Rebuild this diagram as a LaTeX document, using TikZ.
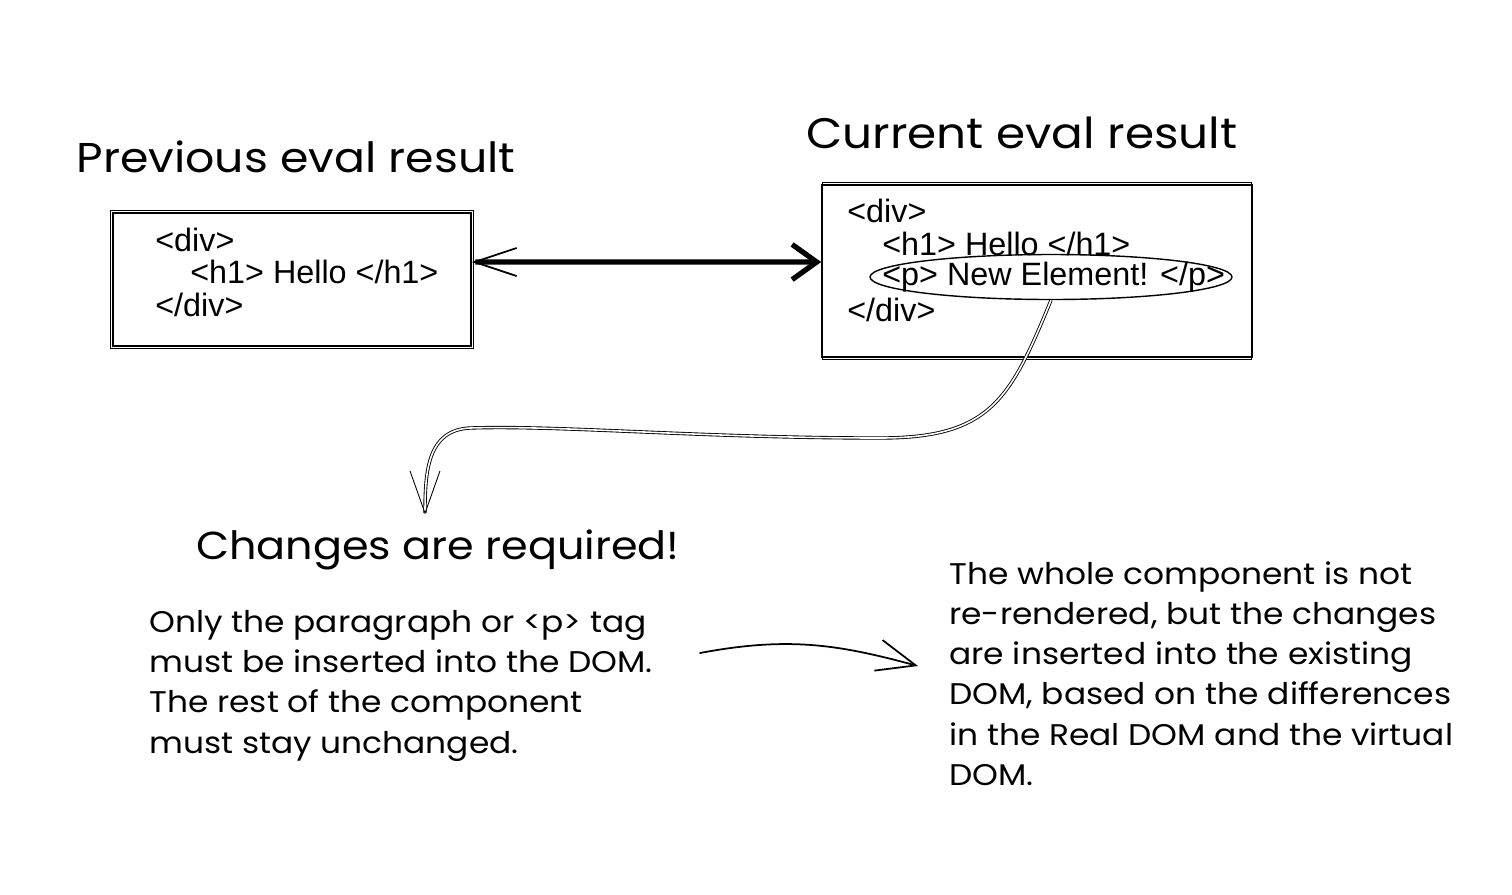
\documentclass[tikz,border=0pt]{standalone}
\usepackage{fontspec}
\setmainfont[FakeStretch=1.1]{Poppins}
\newfontfamily\codefont{Liberation Sans}
\usetikzlibrary{arrows.meta,shapes.geometric}
\begin{document}
\begin{tikzpicture}[x=0.02cm,y=-0.02cm,
% handwritten headings and notes:
title/.style = {font=\fontsize{24}{28}\selectfont, inner sep=0},
note/.style = {font=\fontsize{17}{22.9}\selectfont, align=left,
            anchor=north west, inner sep=0},
% the two result boxes and their code lines:
codebox/.style = {draw, line width=0.9pt, inner sep=0},
code/.style = {font=\codefont\fontsize{18.4}{20}\selectfont, anchor=west, inner sep=0},
% sketched connectors:
pen/.style = {line width=1pt, line cap=round},
sketchy/.style = {line width=0.5pt, double, double distance=0.9pt}]
\fill[white] (0,0) rectangle (1512,894);
\useasboundingbox (0,0) rectangle (1512,894);
\node[title, font=\fontsize{23.7}{28}\selectfont] (prevtitle) at (296,157) {Previous eval result};
\node[title, font=\fontsize{24.3}{28}\selectfont] (curtitle) at (1022,133) {Current eval result};
\node[codebox, minimum width=7.16cm, minimum height=2.66cm] (prevbox) at (292,279.5) {};
\node[codebox, minimum width=8.6cm, minimum height=3.44cm] (curbox) at (1037,271) {};
% second stroke of the sketched boxes
\draw[thin] ([shift={(-1.2pt,0.8pt)}]prevbox.north west) rectangle ([shift={(0.8pt,-1pt)}]prevbox.south east);
\draw[thin] ([shift={(0.8pt,1pt)}]curbox.north west) rectangle ([shift={(-1pt,-0.8pt)}]curbox.south east);
\node[code] (p1) at (155,240) {<div>};
\node[code] (p2) at (190,272) {<h1> Hello </h1>};
\node[code] (p3) at (155,305) {</div>};
\node[code] (c1) at (847,211) {<div>};
\node[code] (c2) at (882,244) {<h1> Hello </h1>};
\node[code] (c3) at (882,277) {<p> New Element! </p>};
\node[code] (c4) at (847,310) {</div>};
\node[ellipse, draw, line width=0.8pt, minimum width=7.24cm, minimum height=0.9cm,
      inner sep=0] (newring) at (1051,277) {};
\node[title, font=\fontsize{22.2}{28}\selectfont] (changes) at (438,550) {Changes are required!};
\node[note] (onlypar) at (149,610) {Only the paragraph or <p> tag\\must be inserted into the DOM.\\The rest of the component\\must stay unchanged.};
\node[note] (wholepar) at (949,561) {The whole component is not\\re-rendered, but the changes\\are inserted into the existing\\DOM, based on the differences\\in the Real DOM and the virtual\\DOM.};
\coordinate (gofrom) at (700,653);
\coordinate (goto) at (918,666);
\draw[line width=3pt, {Straight Barb[length=24pt,width=16pt,line width=1pt]}-{Straight Barb[length=14pt,width=20pt]}]
  ([yshift=0.35cm]prevbox.east) -- ([yshift=0.18cm]curbox.west);
\draw[sketchy, -{Straight Barb[length=24pt,width=17pt]}] (newring.south)
  .. controls (1010,400) and (990,438) .. (880,438)
  .. controls (700,438) and (560,425) .. (470,428)
  .. controls (428,430) and (425,470) .. ([xshift=-0.26cm,yshift=0.3cm]changes.north);
\draw[pen, -{Straight Barb[length=22pt,width=18pt]}] (gofrom)
  .. controls (790,636) and (840,645) .. (goto);
\end{tikzpicture}
\end{document}
